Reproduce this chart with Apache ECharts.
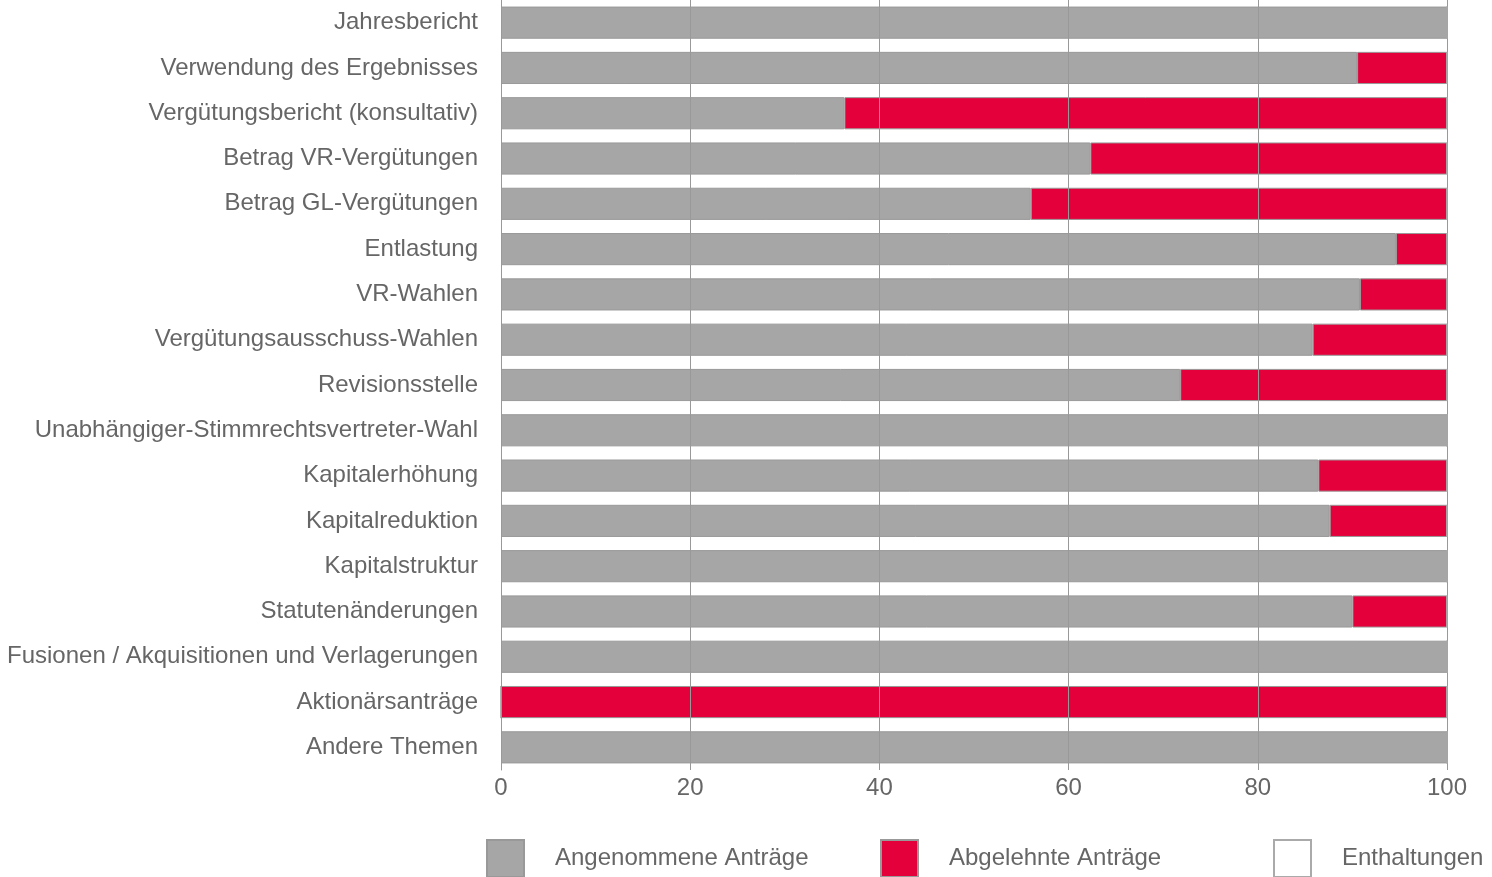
<!DOCTYPE html>
<html><head><meta charset="utf-8">
<script src="https://cdn.jsdelivr.net/npm/echarts@6/dist/echarts.min.js"></script>
<style>html,body{margin:0;padding:0;background:#fff}#c{width:1492px;height:877px}</style>
</head><body><div id="c"></div>
<script>
const categories = ["Jahresbericht","Verwendung des Ergebnisses","Vergütungsbericht (konsultativ)","Betrag VR-Vergütungen","Betrag GL-Vergütungen","Entlastung","VR-Wahlen","Vergütungsausschuss-Wahlen","Revisionsstelle","Unabhängiger-Stimmrechtsvertreter-Wahl","Kapitalerhöhung","Kapitalreduktion","Kapitalstruktur","Statutenänderungen","Fusionen / Akquisitionen und Verlagerungen","Aktionärsanträge","Andere Themen"];
const angenommen = [100,90.5,36.3,62.3,56.0,94.6,90.8,85.8,71.8,100,86.4,87.6,100,90.0,100,0,100];
const abgelehnt  = [0,9.5,63.7,37.7,44.0,5.4,9.2,14.2,28.2,0,13.6,12.4,0,10.0,0,100,0];
const enthaltungen = [0,0,0,0,0,0,0,0,0,0,0,0,0,0,0,0,0];
const xTicks = [0,20,40,60,80,100];
const seriesNames = ["Angenommene Anträge","Abgelehnte Anträge","Enthaltungen"];

const txt = '#666666';
const font = 'Liberation Sans, Arial, sans-serif';
const chart = echarts.init(document.getElementById('c'));
const legendLefts = [481, 875, 1268];
chart.setOption({
  animation:false,
  grid:{left:501, right:45, top:0, height:770},
  xAxis:{type:'value', min:0, max:100, interval:20,
    axisLine:{show:false}, axisTick:{show:false}, splitLine:{show:false},
    axisLabel:{color:txt, fontSize:24, fontFamily:font, margin:6}},
  yAxis:{type:'category', data:categories, inverse:true,
    axisLine:{show:true, lineStyle:{color:'#999999', width:1}},
    axisTick:{show:false},
    axisLabel:{color:txt, fontSize:24, fontFamily:font, margin:23, padding:[2,0,0,0]}},
  legend: seriesNames.map((n,i)=>({data:[n], left:legendLefts[i], top:834, itemWidth:37, itemHeight:37,
    icon:'rect', selectedMode:false,
    textStyle:{color:txt, fontSize:24, fontFamily:font, padding:[0,0,0,26]}})),
  series:[
    {name:seriesNames[0], type:'bar', stack:'a', data:angenommen, barCategoryGap:'29%',
      itemStyle:{color:'#a6a6a6', borderColor:'#999999', borderWidth:1}},
    {name:seriesNames[1], type:'bar', stack:'a', data:abgelehnt,
      itemStyle:{color:'#e4003b', borderColor:'#999999', borderWidth:1}},
    {name:seriesNames[2], type:'bar', stack:'a', data:enthaltungen, z:10,
      itemStyle:{color:'#ffffff', borderColor:'#aaaaaa', borderWidth:1},
      markLine:{silent:true, symbol:'none', label:{show:false},
        lineStyle:{color:'#999999', width:1, type:'solid'},
        data: xTicks.slice(1).map(v=>({xAxis:v}))}}
  ]
});
</script></body></html>
